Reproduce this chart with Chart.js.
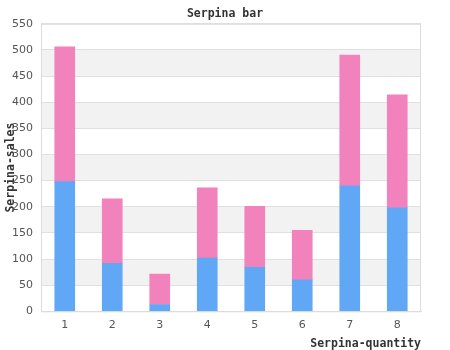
<!DOCTYPE html>
<html>
<head>
  <meta charset="UTF-8" />
  <title>Serpina bar</title>
  <script src="https://cdn.jsdelivr.net/npm/chart.js"></script>
  <style>
    html, body {
      margin: 0;
      padding: 0;
      background: #fff;
    }
    #box {
      width: 450px;
      height: 350px;
    }
  </style>
</head>
<body>
  <div id="box"><canvas id="grafico"></canvas></div>

  <script>
    const categorias = ["1", "2", "3", "4", "5", "6", "7", "8"];
    const serieAzul = [248, 92, 13, 102, 84, 60, 240, 198];
    const serieRosa = [258, 123, 58, 134, 117, 95, 250, 216];

    // faixas cinza alternadas + moldura da área do gráfico
    const faixas = {
      id: "faixas",
      beforeDraw(chart) {
        const { ctx, chartArea, scales } = chart;
        const y = scales.y;
        ctx.save();
        ctx.fillStyle = "#f2f2f2";
        for (let i = 1; i < y.ticks.length - 1; i += 2) {
          const a = y.getPixelForValue(y.ticks[i].value);
          const b = y.getPixelForValue(y.ticks[i + 1].value);
          ctx.fillRect(chartArea.left, b, chartArea.right - chartArea.left, a - b);
        }
        ctx.restore();
      },
      afterDraw(chart) {
        const { ctx, chartArea } = chart;
        ctx.save();
        ctx.strokeStyle = "#dcdcdc";
        ctx.lineWidth = 1;
        ctx.strokeRect(chartArea.left + 0.5, chartArea.top + 0.5,
          chartArea.right - chartArea.left - 1, chartArea.bottom - chartArea.top);
        ctx.restore();
      }
    };

    const mono = "'DejaVu Sans Mono', monospace";
    const sans = "'DejaVu Sans', sans-serif";

    new Chart(document.getElementById("grafico"), {
      type: "bar",
      data: {
        labels: categorias,
        datasets: [
          { label: "A", data: serieAzul, backgroundColor: "#60a8f5" },
          { label: "B", data: serieRosa, backgroundColor: "#f282bb" }
        ]
      },
      options: {
        responsive: true,
        maintainAspectRatio: false,
        animation: false,
        layout: { padding: 0 },
        datasets: { bar: { barThickness: 20 } },
        plugins: {
          legend: { display: false },
          tooltip: { enabled: false },
          title: {
            display: true,
            text: "Serpina bar",
            color: "#333",
            font: { family: mono, size: 11.5, weight: "bold" },
            padding: { top: 7, bottom: 3 }
          }
        },
        scales: {
          x: {
            stacked: true,
            grid: { display: false, drawTicks: false },
            border: { color: "#dcdcdc" },
            ticks: { color: "#555", font: { family: sans, size: 11 }, padding: 7 },
            title: {
              display: true,
              text: "Serpina-quantity",
              align: "end",
              color: "#333",
              font: { family: mono, size: 11.5, weight: "bold", lineHeight: 1 },
              padding: { top: 0, bottom: 0 }
            }
          },
          y: {
            stacked: true,
            min: 0,
            max: 550,
            ticks: { stepSize: 50, color: "#555", font: { family: sans, size: 11 }, padding: 8 },
            grid: { color: "#e0e0e0", drawTicks: false },
            border: { color: "#dcdcdc" },
            title: {
              display: true,
              text: "Serpina-sales",
              color: "#333",
              font: { family: mono, size: 11.5, weight: "bold" },
              padding: { top: 4, bottom: 0 }
            },
            afterFit(scale) {
              scale.width = 41;
            }
          },
          // eixo vazio à direita só para reservar a margem
          margem: {
            position: "right",
            grid: { display: false, drawTicks: false },
            border: { display: false },
            ticks: { display: false },
            afterFit(scale) {
              scale.width = 29;
            }
          }
        }
      },
      plugins: [faixas]
    });
  </script>
</body>
</html>
